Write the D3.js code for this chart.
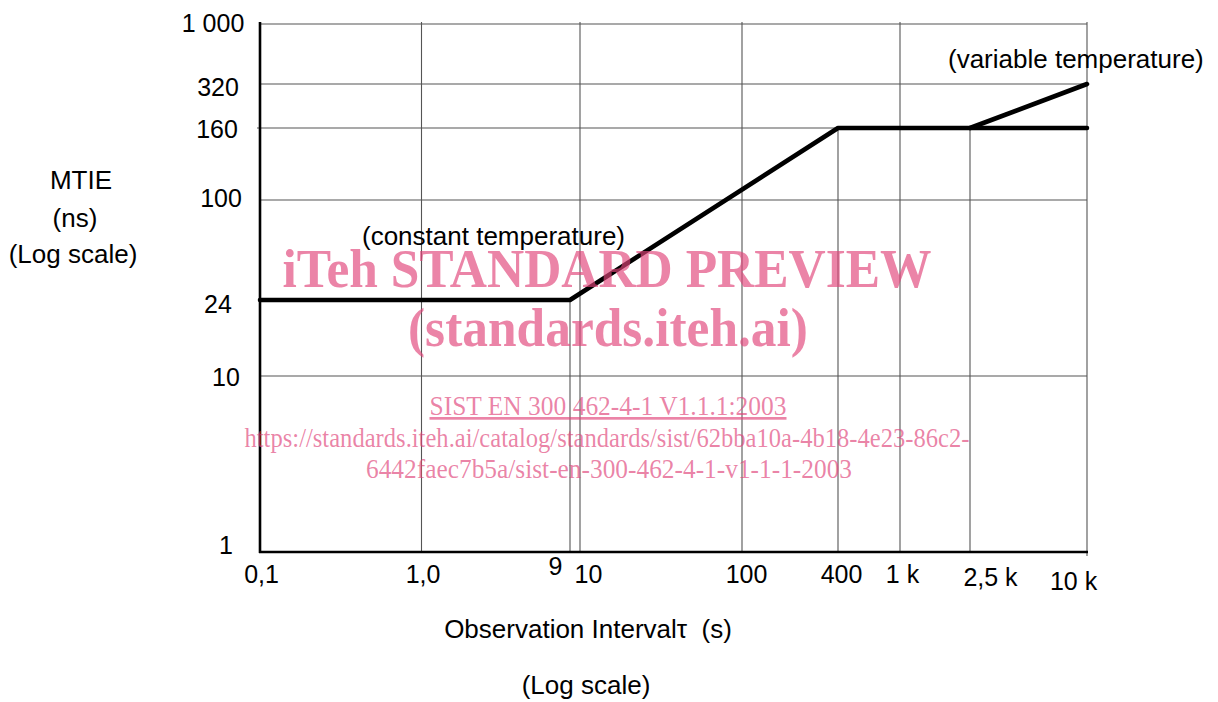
<!DOCTYPE html>
<html>
<head>
<meta charset="utf-8">
<script src="https://cdn.jsdelivr.net/npm/d3@7"></script>
<style>
  html, body { margin: 0; padding: 0; background: #fff; }
  svg { display: block; }
  text { font-family: "Liberation Sans", Arial, sans-serif; fill: #000; }
  .wm { font-family: "Liberation Serif", "Times New Roman", serif; fill: #e0447a; fill-opacity: 0.66; }
</style>
</head>
<body>
<svg id="chart" width="1218" height="702"></svg>
<script>
// ---------- data ----------
const xTickValues = [0.1, 1, 9, 10, 100, 400, 1000, 2500, 10000];
const xTickLabels = ["0,1", "1,0", "9", "10", "100", "400", "1 k", "2,5 k", "10 k"];
const yTickValues = [1, 10, 24, 100, 160, 320, 1000];
const yTickLabels = ["1", "10", "24", "100", "160", "320", "1 000"];

// horizontal grid values
const yGridValues = [10, 100, 160, 320, 1000];
// vertical grid lines running the full height
const xGridFull = [1, 10, 100, 1000, 10000];
// vertical grid lines that start at a given MTIE value and run down
const xGridPartialX = [9, 400, 2500];
const xGridPartialTop = [24, 160, 160];

// mask series
const constTau = [0.1, 9, 400, 10000];
const constMtie = [24, 24, 160, 160];
const varTau = [2500, 10000];
const varMtie = [160, 320];

// ---------- layout ----------
const svg = d3.select("#chart");
// hand-drawn log axes: piecewise log scales
const x = d3.scaleLog()
  .domain(xTickValues)
  .range([260, 421.5, 570, 580, 742, 838, 900, 970, 1087]);
const y = d3.scaleLog()
  .domain(yTickValues)
  .range([552, 376, 300, 200, 128, 84, 24]);

const x0 = x(0.1), x1 = x(10000), yTop = y(1000), yBot = y(1);

// grid
const grid = svg.append("g").attr("stroke", "#555").attr("stroke-width", 1.1);
grid.selectAll(".hg").data(yGridValues).enter().append("line")
  .attr("x1", v => v === 160 ? x0 - 3 : x0).attr("x2", x1)
  .attr("y1", d => y(d)).attr("y2", d => y(d));
grid.selectAll(".vg").data(xGridFull).enter().append("line")
  .attr("x1", d => x(d)).attr("x2", d => x(d))
  .attr("y1", yTop - 2).attr("y2", d => d === 10000 ? yBot + 4 : yBot);
grid.selectAll(".vp").data(xGridPartialX.map((v, i) => [v, xGridPartialTop[i]])).enter().append("line")
  .attr("x1", d => x(d[0])).attr("x2", d => x(d[0]))
  .attr("y1", d => y(d[1])).attr("y2", yBot);

// axes lines
svg.append("line").attr("x1", x0).attr("x2", x0).attr("y1", yTop - 2).attr("y2", yBot + 1)
  .attr("stroke", "#000").attr("stroke-width", 2.6);
svg.append("line").attr("x1", x0 - 1).attr("x2", x1 + 1).attr("y1", yBot).attr("y2", yBot)
  .attr("stroke", "#000").attr("stroke-width", 2.6);

// x tick labels via axis
const xNudge = {0.1: [1, 0], 1: [1, 0], 9: [-15, -8], 10: [8, 0], 100: [4, 0], 400: [3, 0], 1000: [2, 0], 2500: [20, 3], 10000: [-14, 7]};
const xAxis = d3.axisBottom(x).tickValues(xTickValues)
  .tickFormat((d, i) => xTickLabels[i]).tickSize(0).tickPadding(0);
const gx = svg.append("g").attr("transform", `translate(0,${yBot})`).call(xAxis);
gx.select(".domain").remove();
gx.selectAll("text")
  .attr("font-family", "Liberation Sans, Arial, sans-serif")
  .attr("font-size", 25)
  .attr("fill", "#000")
  .attr("dy", null)
  .attr("y", d => 31 + xNudge[d][1])
  .attr("dx", d => xNudge[d][0]);

// y tick labels
const yNudge = {1000: [-7, -2], 320: [-2, 2], 160: [-3, 0], 100: [1, -3], 24: [-2, 3], 10: [6, 0], 1: [6, -8]};
const yAxis = d3.axisLeft(y).tickValues(yTickValues)
  .tickFormat((d, i) => yTickLabels[i]).tickSize(0).tickPadding(0);
const gy = svg.append("g").attr("transform", `translate(220,0)`).call(yAxis);
gy.select(".domain").remove();
gy.selectAll("text")
  .attr("font-family", "Liberation Sans, Arial, sans-serif")
  .attr("font-size", 25)
  .attr("fill", "#000")
  .attr("text-anchor", "middle")
  .attr("x", d => yNudge[d][0])
  .attr("dy", d => (yNudge[d][1] + 9) + "px");

// data lines
const line = d3.line().x(d => x(d[0])).y(d => y(d[1]));
svg.append("path")
  .datum(constTau.map((t, i) => [t, constMtie[i]]))
  .attr("d", line).attr("fill", "none").attr("stroke", "#000")
  .attr("stroke-width", 4.6).attr("stroke-linejoin", "round").attr("stroke-linecap", "round");
svg.append("path")
  .datum(varTau.map((t, i) => [t, varMtie[i]]))
  .attr("d", line).attr("fill", "none").attr("stroke", "#000")
  .attr("stroke-width", 4.6).attr("stroke-linejoin", "round").attr("stroke-linecap", "round");

// annotations
svg.append("text").attr("x", 362).attr("y", 245).attr("font-size", 26).text("(constant temperature)");
svg.append("text").attr("x", 948).attr("y", 68).attr("font-size", 26).text("(variable temperature)");

// axis titles
const yt = svg.append("g").attr("font-size", 26).attr("text-anchor", "middle");
yt.append("text").attr("x", 81).attr("y", 189).text("MTIE");
yt.append("text").attr("x", 75).attr("y", 227).text("(ns)");
yt.append("text").attr("x", 73).attr("y", 263).text("(Log scale)");

const xt = svg.append("g").attr("font-size", 26).attr("text-anchor", "middle");
xt.append("text").attr("x", 588).attr("y", 638).style("white-space", "pre").text("Observation Intervalτ  (s)");
xt.append("text").attr("x", 586).attr("y", 694).text("(Log scale)");

// watermark
const wm = svg.append("g").attr("text-anchor", "middle");
wm.append("text").attr("class", "wm").attr("x", 607).attr("y", 287).attr("font-size", 55)
  .attr("font-weight", "bold").attr("textLength", 649).attr("lengthAdjust", "spacingAndGlyphs")
  .text("iTeh STANDARD PREVIEW");
wm.append("text").attr("class", "wm").attr("x", 608).attr("y", 346).attr("font-size", 55)
  .attr("font-weight", "bold").attr("textLength", 400).attr("lengthAdjust", "spacingAndGlyphs")
  .text("(standards.iteh.ai)");
wm.append("text").attr("class", "wm").attr("x", 608).attr("y", 415).attr("font-size", 27)
  .attr("text-decoration", "underline").attr("textLength", 357).attr("lengthAdjust", "spacingAndGlyphs")
  .text("SIST EN 300 462-4-1 V1.1.1:2003");
wm.append("text").attr("class", "wm").attr("x", 607).attr("y", 447).attr("font-size", 27)
  .attr("textLength", 725).attr("lengthAdjust", "spacingAndGlyphs")
  .text("https://standards.iteh.ai/catalog/standards/sist/62bba10a-4b18-4e23-86c2-");
wm.append("text").attr("class", "wm").attr("x", 609).attr("y", 478).attr("font-size", 27)
  .attr("textLength", 486).attr("lengthAdjust", "spacingAndGlyphs")
  .text("6442faec7b5a/sist-en-300-462-4-1-v1-1-1-2003");
</script>
</body>
</html>
